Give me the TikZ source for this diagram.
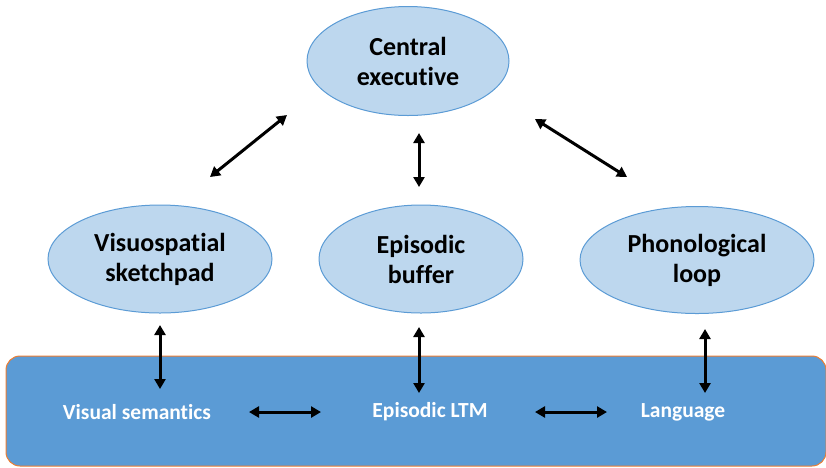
\documentclass[tikz,border=0pt]{standalone}
\usepackage{fontspec}
\setmainfont[Ligatures=NoCommon]{Carlito}
\usetikzlibrary{arrows.meta,shapes.geometric}

\definecolor{paleblue}{HTML}{BDD7EE}
\definecolor{midblue}{HTML}{5B9BD5}
\definecolor{edgeorange}{HTML}{ED7D31}

\tikzset{
    part/.style={ellipse, fill=paleblue, draw=midblue, line width=1pt,
        align=center, inner sep=0pt, font=\bfseries\fontsize{26}{30}\selectfont},
    store/.style={text=white, font=\bfseries\fontsize{21.5}{25}\selectfont},
    link/.style={{Triangle[length=10pt,width=11pt]}-{Triangle[length=10pt,width=11pt]}, line width=3pt}
}

\begin{document}
\begin{tikzpicture}[x=1pt,y=-1pt]
    \useasboundingbox (0,0) rectangle (826,467);

    % long-term memory band
    \node[fill=midblue, draw=edgeorange, line width=1pt, rounded corners=14pt,
        minimum width=820pt, minimum height=110pt] (ltm) at (416,411) {};

    % working memory components
    \node[part, minimum width=202pt, minimum height=109pt] (ce) at (408,61)  {Central\\executive};
    \node[part, minimum width=224pt, minimum height=108pt] (vs) at (160,259) {Visuospatial\\sketchpad};
    \node[part, minimum width=204pt, minimum height=108pt] (eb) at (421,259) {Episodic\\buffer};
    \node[part, minimum width=234pt, minimum height=107pt] (pl) at (697,260) {Phonological\\loop};

    \node[store] (vsem) at (137,412) {Visual semantics};
    \node[store] (eltm) at (430,412) {Episodic LTM};
    \node[store] (lang) at (683,412) {Language};

    % arrow ends
    \coordinate (ce-vs) at (287,115);
    \coordinate (vs-ce) at (210,177);
    \coordinate (ce-eb) at (419,133);
    \coordinate (eb-ce) at (419,187);
    \coordinate (ce-pl) at (535,119);
    \coordinate (pl-ce) at (627,177);

    \coordinate (vs-down) at (160,325);
    \coordinate (vsem-up) at (160,389);
    \coordinate (eb-down) at (419,327);
    \coordinate (eltm-up) at (419,393);
    \coordinate (pl-down) at (705,329);
    \coordinate (lang-up) at (705,393);

    \coordinate (vsem-r) at (249,412);
    \coordinate (eltm-l) at (321,412);
    \coordinate (eltm-r) at (535,412);
    \coordinate (lang-l) at (607,412);

    \draw[link] (ce-vs) -- (vs-ce);
    \draw[link] (ce-eb) -- (eb-ce);
    \draw[link] (ce-pl) -- (pl-ce);
    \draw[link] (vs-down) -- (vsem-up);
    \draw[link] (eb-down) -- (eltm-up);
    \draw[link] (pl-down) -- (lang-up);
    \draw[link] (vsem-r) -- (eltm-l);
    \draw[link] (eltm-r) -- (lang-l);
\end{tikzpicture}
\end{document}
